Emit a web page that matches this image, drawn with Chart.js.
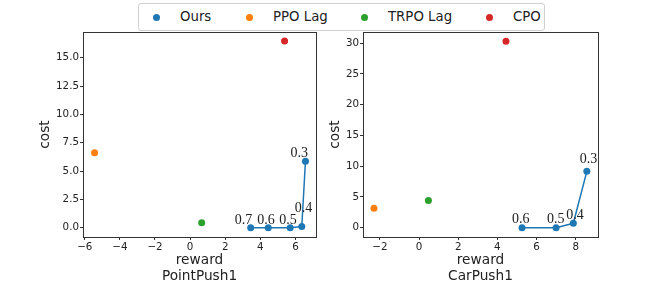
<!DOCTYPE html>
<html lang="en">
<head>
  <meta charset="UTF-8" />
  <title>Reward vs cost</title>
  <script src="https://cdn.jsdelivr.net/npm/chart.js"></script>
  <style>
    body { margin: 0; background: white; font-family: 'DejaVu Sans', sans-serif; }
    #wrap { position: relative; width: 664px; height: 299px; overflow: hidden; }
    canvas { position: absolute; top: 0; }
    #legend {
      position: absolute; left: 138px; top: 3px; width: 405px; height: 26px;
      border: 1px solid #d0d0d0; border-radius: 3px; background: white; z-index: 2;
    }
    .item { position: absolute; top: 0; height: 26px; line-height: 26px; font-size: 13.3px; color: #222; }
    .dot { position: absolute; top: 10px; width: 7px; height: 7px; border-radius: 50%; }
  </style>
</head>
<body>
<div id="wrap">
  <div id="legend"></div>
  <canvas id="left" width="320" height="299" style="left:0"></canvas>
  <canvas id="right" width="344" height="299" style="left:320px"></canvas>
</div>

<script>
  // legend
  const methods = ['Ours', 'PPO Lag', 'TRPO Lag', 'CPO'];
  const colors = ['#1f77b4', '#ff7f0e', '#2ca02c', '#d62728'];

  // PointPush1
  const pointOursReward = [3.45, 4.45, 5.7, 6.36, 6.57];
  const pointOursCost = [0, 0, 0, 0.1, 5.87];
  const pointOursLabels = ['0.7', '0.6', '0.5', '0.4', '0.3'];
  const pointBaseReward = [-5.44, 0.66, 5.38]; // PPO Lag, TRPO Lag, CPO
  const pointBaseCost = [6.61, 0.44, 16.47];
  const pointXTicks = [-6, -4, -2, 0, 2, 4, 6];
  const pointYTicks = [0, 2.5, 5, 7.5, 10, 12.5, 15];

  // CarPush1
  const carOursReward = [5.26, 7.0, 7.88, 8.57];
  const carOursCost = [0, 0, 0.71, 9.15];
  const carOursLabels = ['0.6', '0.5', '0.4', '0.3'];
  const carBaseReward = [-2.3, 0.48, 4.44];
  const carBaseCost = [3.16, 4.41, 30.3];
  const carXTicks = [-2, 0, 2, 4, 6, 8];
  const carYTicks = [0, 5, 10, 15, 20, 25, 30];

  // html legend
  const legendX = [156, 249, 364, 489];
  const legend = document.getElementById('legend');
  methods.forEach((m, i) => {
    const d = document.createElement('span');
    d.className = 'dot';
    d.style.left = (legendX[i] - 138 - 4) + 'px';
    d.style.background = colors[i];
    legend.appendChild(d);
    const t = document.createElement('span');
    t.className = 'item';
    t.style.left = (legendX[i] - 138 + 23) + 'px';
    t.textContent = m;
    legend.appendChild(t);
  });

  const minus = v => String(v).replace('-', '\u2212');

  // box around the plot area, like matplotlib spines
  const frame = {
    id: 'frame',
    afterDraw(chart) {
      const a = chart.chartArea, ctx = chart.ctx;
      ctx.save();
      ctx.strokeStyle = '#333';
      ctx.lineWidth = 1;
      ctx.strokeRect(Math.round(a.left) + 0.5, Math.round(a.top) + 0.5,
        Math.round(a.right - a.left), Math.round(a.bottom - a.top));
      ctx.restore();
    }
  };

  // numbers next to our points
  const pointLabels = {
    id: 'pointLabels',
    afterDatasetsDraw(chart, args, opts) {
      const meta = chart.getDatasetMeta(0), ctx = chart.ctx;
      ctx.save();
      ctx.font = '14px "Liberation Serif", "DejaVu Serif", serif';
      ctx.fillStyle = '#222';
      ctx.textBaseline = 'alphabetic';
      ctx.textAlign = 'left';
      meta.data.forEach((p, i) => {
        const o = opts.offsets[i];
        ctx.fillText(opts.labels[i], p.x + o[0], p.y + o[1]);
      });
      ctx.restore();
    }
  };

  function makeChart(id, cfg) {
    const datasets = [{
      label: methods[0],
      data: cfg.oursX.map((x, i) => ({ x: x, y: cfg.oursY[i] })),
      showLine: true,
      borderColor: colors[0],
      backgroundColor: colors[0],
      borderWidth: 1.5,
      pointRadius: 3.5,
      pointBorderWidth: 0
    }];
    cfg.baseX.forEach((x, i) => {
      datasets.push({
        label: methods[i + 1],
        data: [{ x: x, y: cfg.baseY[i] }],
        backgroundColor: colors[i + 1],
        borderColor: colors[i + 1],
        pointRadius: 3.5,
        pointBorderWidth: 0
      });
    });

    return new Chart(document.getElementById(id), {
      type: 'scatter',
      data: { datasets },
      plugins: [frame, pointLabels],
      options: {
        responsive: false,
        animation: false,
        layout: { padding: { left: 0, top: 32, right: cfg.padRight, bottom: 0 } },
        plugins: {
          legend: { display: false },
          tooltip: { enabled: false },
          pointLabels: { labels: cfg.labels, offsets: cfg.offsets }
        },
        scales: {
          x: {
            min: cfg.xMin, max: cfg.xMax,
            afterBuildTicks: s => { s.ticks = cfg.xTicks.map(v => ({ value: v })); },
            afterFit: s => { s.height = 62; },
            grid: { drawOnChartArea: false, tickLength: 3, tickColor: '#333' },
            border: { color: '#333' },
            ticks: { color: '#222', font: { size: 10.3, family: 'DejaVu Sans' }, padding: 1,
              maxRotation: 0, callback: v => minus(v) },
            title: {
              display: true, text: ['reward', cfg.name], color: '#222',
              font: { size: 13.7, family: 'DejaVu Sans', lineHeight: 1.2 },
              padding: { top: 0, bottom: 14 }
            }
          },
          y: {
            min: cfg.yMin, max: cfg.yMax,
            afterBuildTicks: s => { s.ticks = cfg.yTicks.map(v => ({ value: v })); },
            afterFit: s => { s.width = cfg.yWidth; },
            grid: { drawOnChartArea: false, tickLength: 3, tickColor: '#333' },
            border: { color: '#333' },
            ticks: { color: '#222', font: { size: 10.3, family: 'DejaVu Sans' }, padding: 1,
              callback: v => cfg.yFmt(v) },
            title: {
              display: true, text: 'cost', color: '#222',
              font: { size: 13.7, family: 'DejaVu Sans', lineHeight: 1.2 },
              padding: { top: cfg.costPad, bottom: 0 }
            }
          }
        }
      }
    });
  }

  makeChart('left', {
    name: 'PointPush1',
    oursX: pointOursReward, oursY: pointOursCost,
    baseX: pointBaseReward, baseY: pointBaseCost,
    labels: pointOursLabels,
    offsets: [[-16, -4], [-11, -4], [-11, -4], [-7, -15], [-15, -4]],
    xMin: -6.1, xMax: 7.17, yMin: -0.82, yMax: 17.27,
    xTicks: pointXTicks, yTicks: pointYTicks,
    yFmt: v => v.toFixed(1),
    yWidth: 83, padRight: 3, costPad: 37
  });

  makeChart('right', {
    name: 'CarPush1',
    oursX: carOursReward, oursY: carOursCost,
    baseX: carBaseReward, baseY: carBaseCost,
    labels: carOursLabels,
    offsets: [[-10, -5], [-9, -5], [-7, -4], [-7, -8]],
    xMin: -2.86, xMax: 9.14, yMin: -1.52, yMax: 31.8,
    xTicks: carXTicks, yTicks: carYTicks,
    yFmt: v => minus(v),
    yWidth: 43, padRight: 66, costPad: 7
  });
</script>
</body>
</html>
